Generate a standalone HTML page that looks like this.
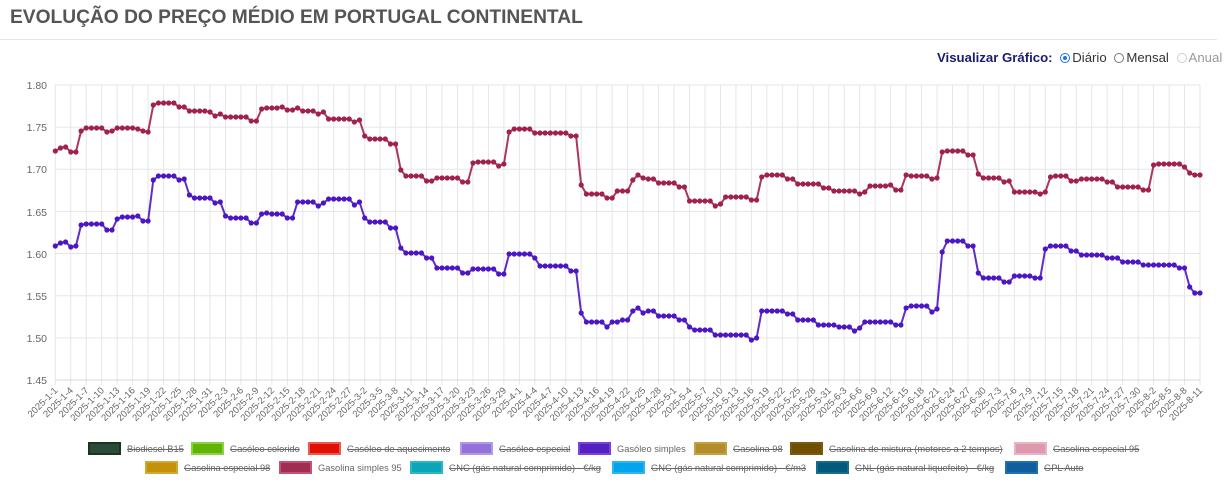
<!DOCTYPE html>
<html><head><meta charset="utf-8">
<style>
body{margin:0;width:1227px;height:484px;background:#fff;font-family:"Liberation Sans",Arial,sans-serif;overflow:hidden;position:relative}
.t{position:absolute;left:10px;top:7px;font-size:19.2px;font-weight:bold;color:#555}
.hr{position:absolute;left:0;top:39px;width:1217px;height:1px;background:#e6e6e6}
.vz{position:absolute;left:937px;top:50px;font-size:13.2px;color:#333;white-space:nowrap}
.vz b{color:#1b1b72}
.r{display:inline-block;width:10px;height:10px;border:1px solid #777;border-radius:50%;vertical-align:-1px;margin:0 2px 0 4px;position:relative;box-sizing:border-box}
.r.on{border-color:#1a73e8}
.r.on:after{content:"";position:absolute;left:2px;top:2px;width:4px;height:4px;border-radius:50%;background:#1a73e8}
.lg{position:absolute;font-size:9.3px;color:#666;white-space:nowrap;line-height:12px}
.lg i{display:inline-block;width:29px;height:9px;border:2px solid;vertical-align:-3px;margin-right:6px}
.lg s{text-decoration:line-through}
</style></head><body>
<div class="t">EVOLUÇÃO DO PREÇO MÉDIO EM PORTUGAL CONTINENTAL</div>
<div class="hr"></div>
<div class="vz"><b>Visualizar Gráfico:</b> <span class="r on"></span>Diário <span class="r"></span>Mensal <span class="r" style="border-color:#ccc"></span><span style="color:#999">Anual</span></div>
<svg id="c" width="1227" height="484" style="position:absolute;left:0;top:0" font-family="Liberation Sans, Arial, sans-serif">
<g font-size="10.5" fill="#666" text-anchor="end">
<text x="47" y="89">1.80</text><text x="47" y="131">1.75</text><text x="47" y="173">1.70</text><text x="47" y="216">1.65</text><text x="47" y="258">1.60</text><text x="47" y="300">1.55</text><text x="47" y="342">1.50</text><text x="47" y="384">1.45</text>
</g>
<g id="grid" stroke="#e6e6e6" stroke-width="1"></g>
<g id="xl" font-size="9.5" fill="#666" text-anchor="end"></g>
<g id="series"></g>
</svg>
<div class="lg" style="left:88px;top:442px"><i style="background:#2b4a37;border-color:#1a3325"></i><s>Biodiesel B15</s></div>
<div class="lg" style="left:191px;top:442px"><i style="background:#5fb404;border-color:#8fd04a"></i><s>Gasóleo colorido</s></div>
<div class="lg" style="left:308px;top:442px"><i style="background:#e01005;border-color:#ea5a50"></i><s>Gasóleo de aquecimento</s></div>
<div class="lg" style="left:460px;top:442px"><i style="background:#9272d8;border-color:#b49ae6"></i><s>Gasóleo especial</s></div>
<div class="lg" style="left:578px;top:442px"><i style="background:#5420bf;border-color:#7a40e0"></i>Gasóleo simples</div>
<div class="lg" style="left:694px;top:442px"><i style="background:#b38d2c;border-color:#c4a040"></i><s>Gasolina 98</s></div>
<div class="lg" style="left:790px;top:442px"><i style="background:#6e5000;border-color:#7a5a10"></i><s>Gasolina de mistura (motores a 2 tempos)</s></div>
<div class="lg" style="left:1014px;top:442px"><i style="background:#db99ab;border-color:#e8b4c2"></i><s>Gasolina especial 95</s></div>
<div class="lg" style="left:145px;top:461px"><i style="background:#c4920a;border-color:#d4a830"></i><s>Gasolina especial 98</s></div>
<div class="lg" style="left:279px;top:461px"><i style="background:#a12d52;border-color:#c45072"></i>Gasolina simples 95</div>
<div class="lg" style="left:410px;top:461px"><i style="background:#0ca5b8;border-color:#2ab8c8"></i><s>GNC (gás natural comprimido) - €/kg</s></div>
<div class="lg" style="left:612px;top:461px"><i style="background:#02a4ec;border-color:#30b4f0"></i><s>GNC (gás natural comprimido) - €/m3</s></div>
<div class="lg" style="left:816px;top:461px"><i style="background:#005a7c;border-color:#1a6a8a"></i><s>GNL (gás natural liquefeito) - €/kg</s></div>
<div class="lg" style="left:1005px;top:461px"><i style="background:#105e9e;border-color:#2070b0"></i><s>GPL Auto</s></div>
<script>
var NS="http://www.w3.org/2000/svg";
function X(i){return 55.3+i*(1200-55.3)/222;}
var g=document.getElementById('grid');
for(var k=0;k<75;k++){var l=document.createElementNS(NS,'line');var x=X(k*3);l.setAttribute('x1',x);l.setAttribute('x2',x);l.setAttribute('y1',85);l.setAttribute('y2',385);g.appendChild(l);}
for(var k=0;k<8;k++){var l=document.createElementNS(NS,'line');var y=85+k*42.14;l.setAttribute('x1',55);l.setAttribute('x2',1200);l.setAttribute('y1',y);l.setAttribute('y2',y);if(k==7)l.setAttribute('stroke','#d8d8d8');g.appendChild(l);}
var labels="1-1 1-4 1-7 1-10 1-13 1-16 1-19 1-22 1-25 1-28 1-31 2-3 2-6 2-9 2-12 2-15 2-18 2-21 2-24 2-27 3-2 3-5 3-8 3-11 3-14 3-17 3-20 3-23 3-26 3-29 4-1 4-4 4-7 4-10 4-13 4-16 4-19 4-22 4-25 4-28 5-1 5-4 5-7 5-10 5-13 5-16 5-19 5-22 5-25 5-28 5-31 6-3 6-6 6-9 6-12 6-15 6-18 6-21 6-24 6-27 6-30 7-3 7-6 7-9 7-12 7-15 7-18 7-21 7-24 7-27 7-30 8-2 8-5 8-8 8-11".split(" ");
var xl=document.getElementById('xl');
labels.forEach(function(s,k){var t=document.createElementNS(NS,'text');var x=X(k*3)+3,y=391;t.setAttribute('x',x);t.setAttribute('y',y);t.setAttribute('transform','rotate(-45 '+x+' '+y+')');t.textContent='2025-'+s;xl.appendChild(t);});
function build(spec){var a=[];spec.forEach(function(p){var r=String(p[0]).split('-');var s=+r[0],e=r.length>1?+r[1]:s;for(var i=s;i<=e;i++)a[i]=p[1];});return a;}
var red=build([[0,151],[1,148],[2,147],[3,152],[4,152],[5,131],['6-9',128],[10,132],[11,131],['12-15',128],[16,129],[17,131],[18,132],[19,105],['20-23',103],['24-25',107],['26-29',111],[30,112],[31,116],[32,114],['33-37',117],['38-39',121],[40,109],['41-43',108],[44,107],['45-46',110],[47,108],['48-50',111],[51,114],[52,112],['53-57',119],[58,122],[59,120],[60,136],['61-64',139],['65-66',144],[67,170],['68-71',176],['72-73',181],['74-78',178],['79-80',182],[81,163],['82-85',162],[86,166],[87,164],[88,132],['89-92',129],['93-99',133],['100-101',136],[102,185],['103-106',194],['107-108',198],['109-111',191],[112,180],[113,175],[114,178],['115-116',179],['117-120',183],['121-122',187],['123-127',201],[128,206],[129,204],['130-134',197],['135-136',200],[137,177],['138-141',175],['142-143',179],['144-148',184],['149-150',188],['151-155',191],[156,194],[157,192],['158-161',186],[162,185],['163-164',190],[165,175],['166-169',176],[170,179],[171,178],[172,152],['173-176',151],['177-178',155],[179,174],['180-183',178],[184,182],[185,181],['186-190',192],[191,194],[192,192],[193,177],['194-196',176],['197-198',181],['199-203',179],['204-205',182],['206-210',187],['211-212',190],[213,165],['214-218',164],[219,167],[220,173],['221-222',175]]);
var blue=build([[0,246],[1,243],[2,242],[3,247],[4,246],[5,225],['6-9',224],['10-11',230],[12,219],['13-15',217],[16,216],['17-18',221],[19,180],['20-23',176],[24,180],[25,179],[26,195],['27-30',198],[31,203],[32,202],[33,216],['34-37',218],['38-39',223],[40,214],[41,213],['42-44',214],['45-46',218],['47-50',202],[51,206],[52,203],['53-57',199],[58,205],[59,202],[60,218],['61-64',222],['65-66',228],[67,248],['68-71',253],['72-73',258],['74-78',268],['79-80',273],['81-85',269],['86-87',274],['88-92',254],[93,258],['94-99',266],['100-101',271],[102,313],['103-106',322],[107,327],['108-109',322],['110-111',320],[112,311],[113,308],[114,313],['115-116',311],['117-120',316],['121-122',320],[123,327],['124-127',330],['128-134',335],[135,340],[136,338],['137-141',311],['142-143',314],['144-147',320],['148-151',325],['152-154',327],[155,331],[156,328],['157-161',322],[162,322],['163-164',325],[165,308],['166-169',306],[170,312],[171,309],[172,252],['173-176',241],['177-178',246],[179,273],['180-183',278],['184-185',282],['186-189',276],['190-191',278],[192,249],['193-196',246],['197-198',251],['199-203',255],['204-206',258],['207-210',262],['211-217',265],['218-219',268],[220,287],['221-222',293]]);
var sg=document.getElementById('series');
function draw(a,col){var pts=a.map(function(y,i){return X(i).toFixed(1)+','+y;}).join(' ');var pl=document.createElementNS(NS,'polyline');pl.setAttribute('points',pts);pl.setAttribute('fill','none');pl.setAttribute('stroke',col);pl.setAttribute('stroke-width','2');pl.setAttribute('stroke-opacity','0.9');sg.appendChild(pl);
a.forEach(function(y,i){var c=document.createElementNS(NS,'circle');c.setAttribute('cx',X(i).toFixed(1));c.setAttribute('cy',y);c.setAttribute('r','2.6');c.setAttribute('fill',col);sg.appendChild(c);});}
draw(red,'#a0224c');draw(blue,'#4d16c4');
</script>
</body></html>
